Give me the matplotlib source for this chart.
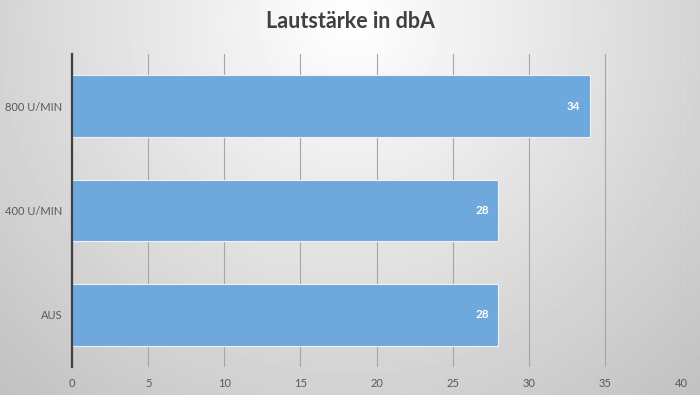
import numpy as np
import matplotlib.pyplot as plt

categories = ['AUS', '400 U/MIN', '800 U/MIN']
values = [28, 28, 34]
xticks = [0, 5, 10, 15, 20, 25, 30, 35, 40]

plt.rcParams['font.family'] = ['Lato', 'DejaVu Sans']

fig = plt.figure(figsize=(7, 3.95), dpi=100)

# radial gradient background
bg = fig.add_axes([0, 0, 1, 1], zorder=-10)
yy, xx = np.mgrid[0:395, 0:700]
r = np.sqrt(((xx - 350) / 420.0) ** 2 + ((yy - 20) / 420.0) ** 2)
shade = 1.0 - 0.20 * np.clip(r, 0, 1.2)
bg.imshow(shade, cmap='gray', vmin=0, vmax=1, aspect='auto', extent=[0, 1, 0, 1], origin='upper')
bg.axis('off')

ax = fig.add_axes([0.103, 0.071, 0.870, 0.792])
ax.patch.set_alpha(0)
y = np.arange(len(categories))
bars = ax.barh(y, values, height=0.59, color='#6fa8dc', edgecolor='#eaf2fa', linewidth=0.8, zorder=3)
for b, v in zip(bars, values):
    ax.text(v - 0.6, b.get_y() + b.get_height() / 2, str(v), ha='right', va='center',
            color='white', fontsize=8.5, fontweight='bold', zorder=4)

ax.set_xlim(0, 40)
ax.set_ylim(-0.5, 2.5)
ax.set_xticks(xticks)
ax.set_yticks(y)
ax.set_yticklabels(categories)
ax.tick_params(axis='both', length=0, labelsize=8, colors='#595959')
ax.tick_params(axis='x', pad=8)
ax.tick_params(axis='y', pad=7)
ax.grid(axis='x', color='#a6a6a6', linewidth=0.8, zorder=0)
for s in ['top', 'right', 'bottom']:
    ax.spines[s].set_visible(False)
ax.spines['left'].set_color('#404040')
ax.spines['left'].set_linewidth(1.6)
ax.spines['left'].set_zorder(5)

fig.text(0.5, 0.945, 'Lautstärke in dbA', ha='center', va='center', fontsize=15.5,
         fontweight='bold', color='#404040')

fig.savefig('out.png', dpi=100)
